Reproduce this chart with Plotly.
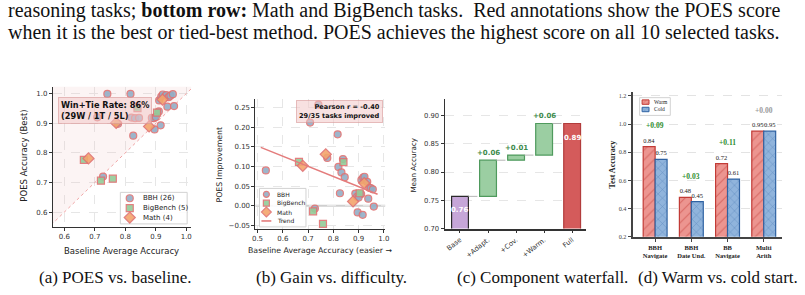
import numpy as np
import plotly.graph_objects as go

W, H = 805, 295

# ---------------- data ----------------
bbh_base = [0.533, 0.708, 0.741, 0.727, 0.776, 0.817, 0.820, 0.832, 0.845, 0.838, 0.826, 0.887, 0.894,
            0.896, 0.916, 0.911, 0.918, 0.923, 0.934, 0.942, 0.948, 0.956, 0.938, 0.960, 0.910, 0.900]
bbh_poes = [0.623, 0.920, 0.999, 0.720, 0.898, 0.999, 0.919, 0.917, 0.918, 0.957, 0.858, 0.918, 0.917,
            0.879, 0.893, 0.977, 0.990, 0.997, 0.995, 0.988, 0.993, 0.998, 0.956, 0.958, 0.940, 0.921]
bb_base = [0.664, 0.720, 0.759, 0.840, 0.904]
bb_poes = [0.776, 0.706, 0.713, 0.951, 0.936]
math_base = [0.679, 0.770, 0.878, 0.922]
math_poes = [0.781, 0.901, 0.889, 0.980]

wf_labels = ["Base", "+Adapt.", "+Cov.", "+Warm.", "Full"]
wf_base = 0.757
wf_deltas = [0.064, 0.009, 0.056]
wf_full = 0.886

ws_tasks = ["BBH<br>Navigate", "BBH<br>Date Und.", "BB<br>Navigate", "Multi<br>Arith"]
ws_warm = [0.84, 0.48, 0.72, 0.95]
ws_cold = [0.75, 0.45, 0.61, 0.95]

# ---------------- helpers ----------------
def fx(p):
    return p / W

def fy(p):
    return 1 - p / H

SANS = "DejaVu Sans"
SERIF = "Liberation Serif"
EDGE = "#e07272"
C_BBH = "#93aec6"
C_BB = "#93cc98"
C_MATH = "#f3a56c"
WARM_FILL, WARM_EDGE = "#ec9590", "#c23b36"
COLD_FILL, COLD_EDGE = "#90b4dc", "#2f62a2"

fig = go.Figure()

# ---------------- panel (a) ----------------
xa_rng = [0.562, 1.016]
ya_rng = [0.55, 1.023]
lo, hi = 0.5, 1.05
fig.add_trace(go.Scatter(x=[lo, lo, hi, lo], y=[lo, hi, hi, lo], fill="toself",
                         fillcolor="rgba(235,185,185,0.16)", line=dict(width=0), mode="lines",
                         hoverinfo="skip", xaxis="x", yaxis="y"))
fig.add_trace(go.Scatter(x=[lo, hi], y=[lo, hi], mode="lines",
                         line=dict(color="#f0a4a4", width=1, dash="dot"),
                         hoverinfo="skip", xaxis="x", yaxis="y"))

groups = [
    ("BBH", bbh_base, bbh_poes, C_BBH, "circle", 7),
    ("BigBench", bb_base, bb_poes, C_BB, "square", 7),
    ("Math", math_base, math_poes, C_MATH, "diamond", 8.5),
]
for name, xb, yp, col, sym, sz in groups:
    fig.add_trace(go.Scatter(x=xb, y=yp, mode="markers", name=f"{name} ({len(xb)})",
                             marker=dict(color=col, symbol=sym, size=sz, opacity=0.9,
                                         line=dict(color=EDGE, width=1.2)),
                             xaxis="x", yaxis="y"))

# ---------------- panel (b) ----------------
all_x = np.array(bbh_base + bb_base + math_base)
all_g = np.array(bbh_poes + bb_poes + math_poes) - all_x
slope, icpt = np.polyfit(all_x, all_g, 1)
tx = np.array([all_x.min() - 0.02, all_x.max() + 0.015])

for name, xb, yp, col, sym, sz in groups:
    g = (np.array(yp) - np.array(xb)).tolist()
    fig.add_trace(go.Scatter(x=xb, y=g, mode="markers", name=name,
                             marker=dict(color=col, symbol=sym, size=sz, opacity=0.9,
                                         line=dict(color=EDGE, width=1.2)),
                             xaxis="x2", yaxis="y2"))
fig.add_trace(go.Scatter(x=tx, y=slope * tx + icpt, mode="lines", name="Trend",
                         line=dict(color="#e47c7c", width=1.6), xaxis="x2", yaxis="y2"))

# ---------------- panel (c) ----------------
cum = [wf_base]
for d in wf_deltas:
    cum.append(cum[-1] + d)
fig.add_trace(go.Bar(x=[0], y=[wf_base], width=0.6, offset=-0.3,
                     marker=dict(color="#c6a6d8", line=dict(color="#2b2b2b", width=1.2)),
                     xaxis="x3", yaxis="y3"))
fig.add_trace(go.Bar(x=[1, 2, 3], y=wf_deltas, base=cum[:-1], width=0.6, offset=-0.3,
                     marker=dict(color="#9bcea2", line=dict(color="#4f9a5d", width=1.2)),
                     xaxis="x3", yaxis="y3"))
fig.add_trace(go.Bar(x=[4], y=[wf_full], width=0.6, offset=-0.3,
                     marker=dict(color="#d45b5b", line=dict(color="#b23c3c", width=1.2)),
                     xaxis="x3", yaxis="y3"))
cx, cy = [], []
for i, lvl in enumerate(cum):
    cx += [i + 0.3, i + 0.7, None]
    cy += [lvl, lvl, None]
fig.add_trace(go.Scatter(x=cx, y=cy, mode="lines", line=dict(color="#b5b5b5", width=1, dash="dash"),
                         hoverinfo="skip", xaxis="x3", yaxis="y3"))

# ---------------- panel (d) ----------------
xi = list(range(len(ws_tasks)))
fig.add_trace(go.Bar(x=xi, y=ws_warm, width=0.33, offset=-0.33, name="Warm",
                     marker=dict(color=WARM_FILL, line=dict(color=WARM_EDGE, width=1.2),
                                 pattern=dict(shape="/", fgcolor=WARM_EDGE, bgcolor=WARM_FILL,
                                              size=7, solidity=0.15, fillmode="overlay")),
                     text=[f"{v:.2f}" for v in ws_warm], textposition="outside", cliponaxis=False,
                     textfont=dict(family=SERIF, size=6.5, color="#222"),
                     xaxis="x4", yaxis="y4"))
fig.add_trace(go.Bar(x=xi, y=ws_cold, width=0.33, offset=0.0, name="Cold",
                     marker=dict(color=COLD_FILL, line=dict(color=COLD_EDGE, width=1.2),
                                 pattern=dict(shape="x", fgcolor=COLD_EDGE, bgcolor=COLD_FILL,
                                              size=6, solidity=0.15, fillmode="overlay")),
                     text=[f"{v:.2f}" for v in ws_cold], textposition="outside", cliponaxis=False,
                     textfont=dict(family=SERIF, size=6.5, color="#222"),
                     xaxis="x4", yaxis="y4"))

# ---------------- compact legends on a pixel overlay axis ----------------
ann = []

def legend_box(x0, y0, x1, y1):
    fig.add_trace(go.Scatter(x=[x0, x1, x1, x0, x0], y=[y0, y0, y1, y1, y0], mode="lines",
                             fill="toself", fillcolor="rgba(255,255,255,0.88)",
                             line=dict(color="#d2d2d2", width=1), hoverinfo="skip",
                             xaxis="x5", yaxis="y5"))

def legend_text(x, y, t, size, fam=SANS):
    ann.append(dict(x=x, y=y, xref="x5", yref="y5", xanchor="left", yanchor="middle", showarrow=False,
                    font=dict(family=fam, size=size, color="#222"), text=t))

# legend (a)
legend_box(117.5, 195, 185, 227)
for (name, xb, yp, col, sym, sz), ry in zip(groups, [201, 211, 220.5]):
    fig.add_trace(go.Scatter(x=[127], y=[ry], mode="markers",
                             marker=dict(color=col, symbol=sym, size=sz, opacity=0.9,
                                         line=dict(color=EDGE, width=1.2)),
                             xaxis="x5", yaxis="y5"))
    legend_text(138, ry, f"{name} ({len(xb)})", 7)

# legend (b)
legend_box(258, 191, 305, 230)
for (name, xb, yp, col, sym, sz), ry in zip(groups, [197, 206, 215]):
    fig.add_trace(go.Scatter(x=[265], y=[ry], mode="markers",
                             marker=dict(color=col, symbol=sym, size=sz - 1, opacity=0.9,
                                         line=dict(color=EDGE, width=1.2)),
                             xaxis="x5", yaxis="y5"))
    legend_text(274, ry, name, 6)
fig.add_trace(go.Scatter(x=[260, 270], y=[224, 224], mode="lines", line=dict(color="#e47c7c", width=1.6),
                         xaxis="x5", yaxis="y5"))
legend_text(274, 224, "Trend", 6)

# legend (d): box and hatched swatches drawn as bars (bars render below scatter traces)
fig.add_trace(go.Bar(x=[657.5], y=[-18], base=[117], width=[31],
                     marker=dict(color="rgba(255,255,255,0.9)", line=dict(color="#d2d2d2", width=1)),
                     xaxis="x5", yaxis="y5"))
for nm, fc, ec, shp, ry in [("Warm", WARM_FILL, WARM_EDGE, "/", 103.5), ("Cold", COLD_FILL, COLD_EDGE, "x", 111)]:
    fig.add_trace(go.Bar(x=[648], y=[-4.5], base=[ry + 2.25], width=[7],
                         marker=dict(color=fc, line=dict(color=ec, width=1),
                                     pattern=dict(shape=shp, fgcolor=ec, bgcolor=fc, size=3,
                                                  solidity=0.2, fillmode="overlay")),
                         xaxis="x5", yaxis="y5"))
    legend_text(654, ry, nm, 5.5, SERIF)

# ---------------- annotations ----------------
ann.append(dict(x=fx(2), y=fy(11), xref="paper", yref="paper", xanchor="left", yanchor="middle",
                showarrow=False, font=dict(family=SERIF, size=20, color="#111"),
                text="reasoning tasks; <b>bottom row:</b> Math and BigBench tasks.  Red annotations show the POES score"))
ann.append(dict(x=fx(2), y=fy(33), xref="paper", yref="paper", xanchor="left", yanchor="middle",
                showarrow=False, font=dict(family=SERIF, size=20, color="#111"),
                text="when it is the best or tied-best method. POES achieves the highest score on all 10 selected tasks."))
for cxp, t in [(113, "(a) POES vs. baseline."), (331, "(b) Gain vs. difficulty."),
               (544, "(c) Component waterfall."), (721, "(d) Warm vs. cold start.")]:
    ann.append(dict(x=fx(cxp), y=fy(281), xref="paper", yref="paper", xanchor="center", yanchor="middle",
                    showarrow=False, font=dict(family=SERIF, size=17, color="#111"), text=t))

def atitle(x, y, t, ang=0, size=8.5, fam=SANS):
    ann.append(dict(x=fx(x), y=fy(y), xref="paper", yref="paper", xanchor="center", yanchor="middle",
                    showarrow=False, textangle=ang, font=dict(family=fam, size=size, color="#222"), text=t))

atitle(118.5, 254, "Baseline Average Accuracy", 0, 8.5)
atitle(20, 158, "POES Accuracy (Best)", -90, 8.5)
atitle(318.7, 254, "Baseline Average Accuracy (easier →", 0, 7.8)
atitle(218, 167, "POES Improvement", -90, 7.8)
atitle(414, 167, "Mean Accuracy", -90, 7.2)
atitle(615, 167, "<b>Test Accuracy</b>", -90, 8, SERIF)

ann.append(dict(x=fx(55), y=fy(98), xref="paper", yref="paper", xanchor="left", yanchor="top",
                showarrow=False, align="left", bgcolor="rgba(242,200,200,0.55)",
                bordercolor="rgba(215,150,150,0.6)", borderwidth=1, borderpad=2,
                font=dict(family=SANS, size=8.2, color="#111"),
                text="<b>Win+Tie Rate: 86%<br>(29W / 1T / 5L)</b>"))
ann.append(dict(x=fx(383), y=fy(101), xref="paper", yref="paper", xanchor="right", yanchor="top",
                showarrow=False, align="right", bgcolor="rgba(242,200,200,0.55)",
                bordercolor="rgba(215,150,150,0.6)", borderwidth=1, borderpad=2,
                font=dict(family=SANS, size=6.6, color="#111"),
                text="<b>Pearson r = -0.40<br>29/35 tasks improved</b>"))

for i, d in enumerate(wf_deltas):
    ann.append(dict(x=i + 1, y=cum[i + 1] + 0.002, xref="x3", yref="y3", xanchor="center", yanchor="bottom",
                    showarrow=False, font=dict(family=SANS, size=7, color="#3d8a4c"),
                    text=f"<b>+{d:.2f}</b>"))
ann.append(dict(x=0, y=wf_base - 0.025, xref="x3", yref="y3", showarrow=False,
                font=dict(family=SANS, size=7, color="white"), text=f"<b>{wf_base:.2f}</b>"))
ann.append(dict(x=4, y=wf_full - 0.025, xref="x3", yref="y3", showarrow=False,
                font=dict(family=SANS, size=7, color="white"), text=f"<b>{wf_full:.2f}</b>"))

for i in xi:
    dlt = ws_warm[i] - ws_cold[i]
    col = "#2f8f2f" if dlt > 0.005 else "#9a9a9a"
    ann.append(dict(x=i, y=max(ws_warm[i], ws_cold[i]) + 0.15, xref="x4", yref="y4", showarrow=False,
                    font=dict(family=SERIF, size=7.5, color=col), text=f"<b>+{dlt:.2f}</b>"))

shapes = [dict(type="line", xref="x2 domain", x0=0, x1=1, yref="y2", y0=0, y1=0,
               line=dict(color="#cfcfcf", width=2), layer="below")]

# ---------------- layout ----------------
GRID = dict(showgrid=True, gridcolor="#e6e6e6", griddash="dash", gridwidth=0.8, zeroline=False)
SP = dict(showline=True, linecolor="#333", linewidth=1, ticks="outside", ticklen=3, tickcolor="#333",
          mirror=False)

def tf(size, fam=SANS, col="#333"):
    return dict(family=fam, size=size, color=col)

fig.update_layout(
    width=W, height=H, margin=dict(l=0, r=0, t=0, b=0),
    paper_bgcolor="white", plot_bgcolor="rgba(0,0,0,0)", barmode="overlay", showlegend=False,
    annotations=ann, shapes=shapes,
    xaxis=dict(domain=[fx(49.3), fx(189)], range=xa_rng, anchor="y", tickvals=[0.6, 0.7, 0.8, 0.9, 1.0],
               tickformat=".1f", tickfont=tf(7), **GRID, **SP),
    yaxis=dict(domain=[fy(230), fy(88)], range=ya_rng, anchor="x", tickvals=[0.6, 0.7, 0.8, 0.9, 1.0],
               tickformat=".1f", tickfont=tf(7), **GRID, **SP),
    xaxis2=dict(domain=[fx(254), fx(385)], range=[0.492, 1.005], anchor="y2",
                tickvals=[0.5, 0.6, 0.7, 0.8, 0.9, 1.0], tickformat=".1f", tickfont=tf(7), **GRID, **SP),
    yaxis2=dict(domain=[fy(231.7), fy(100)], range=[-0.058, 0.273], anchor="x2",
                tickvals=[-0.05, 0, 0.05, 0.1, 0.15, 0.2, 0.25], tickformat=".2f", tickfont=tf(7),
                **GRID, **SP),
    xaxis3=dict(domain=[fx(445), fx(588)], range=[-0.55, 4.5], anchor="y3",
                tickvals=list(range(len(wf_labels))), ticktext=wf_labels, tickangle=-38,
                tickfont=tf(6.8), showgrid=False, zeroline=False,
                showline=True, linecolor="#333", linewidth=1.5, ticks="outside", ticklen=3, tickcolor="#333"),
    yaxis3=dict(domain=[fy(231.7), fy(100)], range=[0.70, 0.930], anchor="x3",
                tickvals=[0.70, 0.75, 0.80, 0.85, 0.90], tickformat=".2f", tickfont=tf(6.8),
                **GRID, **SP),
    xaxis4=dict(domain=[fx(635), fx(786)], range=[-0.62, 3.51], anchor="y4",
                tickvals=xi, ticktext=[f"<b>{t}</b>" for t in ws_tasks], tickfont=tf(6.5, SERIF, "#222"),
                showgrid=False, zeroline=False, showline=True, linecolor="#444", linewidth=2,
                ticks="outside", ticklen=3, tickcolor="#444"),
    yaxis4=dict(domain=[fy(240), fy(93.3)], range=[0.2, 1.228], anchor="x4",
                tickvals=[0.2, 0.4, 0.6, 0.8, 1.0, 1.2], tickformat=".1f", tickfont=tf(6.2, SERIF, "#444"),
                showgrid=True, gridcolor="#e3e3e3", griddash="dash", zeroline=False,
                showline=True, linecolor="#444", linewidth=2, ticks="outside", ticklen=3, tickcolor="#444"),
    xaxis5=dict(domain=[0, 1], range=[0, W], anchor="y5", visible=False, fixedrange=True),
    yaxis5=dict(domain=[0, 1], range=[H, 0], anchor="x5", visible=False, fixedrange=True),
)

fig.write_html("out.html")
